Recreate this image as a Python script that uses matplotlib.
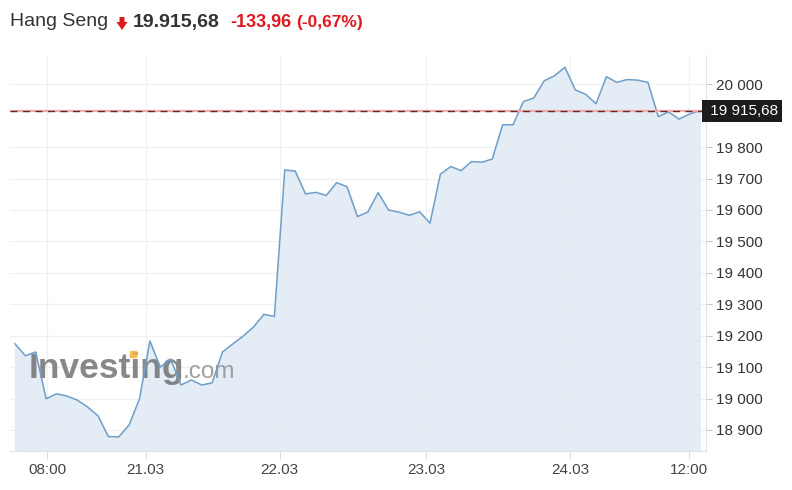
import numpy as np
import matplotlib
matplotlib.use("Agg")
import matplotlib.pyplot as plt
from matplotlib.patches import Rectangle, Polygon

plt.rcParams["font.family"] = ["Liberation Sans", "DejaVu Sans"]

# Hang Seng, 30-minute closes
prices = [
    19174, 19136, 19148, 18999, 19015, 19008, 18995, 18973, 18945, 18879,
    18878, 18916, 18999, 19183, 19100, 19126, 19043, 19059, 19043, 19050,
    19148, 19174, 19199, 19228, 19268, 19261, 19727, 19724, 19651, 19656,
    19646, 19687, 19674, 19579, 19593, 19655, 19600, 19593, 19583, 19594,
    19558, 19714, 19738, 19725, 19754, 19752, 19762, 19871, 19871, 19945,
    19956, 20011, 20027, 20054, 19982, 19968, 19938, 20024, 20006, 20015,
    20013, 20006, 19897, 19912, 19889, 19905, 19915.68,
]
tick_pos = [3.1, 12.6, 25.5, 39.6, 53.5, 65.0]
tick_labels = ["08:00", "21.03", "22.03", "23.03", "24.03", "12:00"]
y_ticks = [18900, 19000, 19100, 19200, 19300, 19400, 19500, 19600, 19700, 19800, 20000]

last_price = 19915.68
change = "-133,96"
change_pct = "(-0,67%)"

line_col = "#6f9fc8"
fill_col = "#e2ebf4"
grid_col = "#f0f0f0"
text_col = "#333333"
red = "#e0191f"

W, H = 792, 490


# pixel (from top-left) -> figure fraction
def px(x, y):
    return x / W, 1 - y / H


def fmt(v):
    return f"{int(v):,}".replace(",", " ")


def main():
    fig = plt.figure(figsize=(W / 100, H / 100), dpi=100)
    ax = fig.add_axes([10 / W, 1 - 450.7 / H, 696 / W, 395.7 / H])

    x = np.arange(len(prices))
    ax.fill_between(x, prices, 18700, color=fill_col, zorder=1, alpha=0.9)
    ax.plot(x, prices, color=line_col, lw=1.1, zorder=3)

    # last price line
    ax.axhline(last_price, color="#f3a8a8", lw=1.6, zorder=4)
    ax.axhline(last_price, color="#5c2e2e", lw=1.0, ls=(0, (5, 4)), zorder=5)
    ax.text(1.0, last_price, " 19 915,68", transform=ax.get_yaxis_transform(),
            ha="left", va="center", color="white", fontsize=11, zorder=6,
            bbox=dict(boxstyle="square,pad=0.25", fc="#1c1c1c", ec="none"),
            clip_on=False)

    ax.set_xlim(-0.48, 66.6)
    ax.set_ylim(18834, 20093)
    ax.set_xticks(tick_pos)
    ax.set_xticklabels(tick_labels)
    ax.set_yticks(y_ticks)
    ax.set_yticklabels([fmt(v) for v in y_ticks])
    ax.yaxis.tick_right()
    ax.tick_params(axis="y", length=4, width=0.8, color="#cccccc", pad=3,
                   labelsize=11, labelcolor=text_col)
    ax.tick_params(axis="x", length=6, width=0.8, color="#dddddd", pad=3,
                   labelsize=11, labelcolor="#444444")
    ax.grid(True, color=grid_col, lw=0.9, zorder=0)
    ax.set_axisbelow(True)
    for side in ["top", "left"]:
        ax.spines[side].set_visible(False)
    ax.spines["right"].set_color("#e3e3e3")
    ax.spines["bottom"].set_color("#e3e3e3")

    # watermark (behind the line)
    ax.text(*px(29, 368), "Investing", transform=fig.transFigure, fontsize=25.5,
            fontweight="bold", color="#6a6a6a", alpha=0.8, va="center", ha="left",
            zorder=2, clip_on=False)
    ax.text(*px(183, 372), ".com", transform=fig.transFigure, fontsize=17.5,
            color="#8a8a8a", alpha=0.8, va="center", ha="left", zorder=2,
            clip_on=False)
    ax.add_patch(Rectangle(px(130, 357), 6 / W, 6 / H, transform=fig.transFigure,
                           color="#f5b642", alpha=0.85, zorder=2.5, clip_on=False))

    # header
    fig.text(*px(10, 22), "Hang Seng", fontsize=14, color=text_col, va="center")
    arrow = [px(119.5, 17), px(124.5, 17), px(124.5, 22), px(127.5, 22),
             px(122, 30), px(116.5, 22), px(119.5, 22)]
    fig.patches.append(Polygon(arrow, closed=True, transform=fig.transFigure,
                               color=red, lw=0))
    fig.text(*px(133, 22), "19.915,68", fontsize=14, fontweight="bold",
             color=text_col, va="center")
    fig.text(*px(230, 22), change, fontsize=13, fontweight="bold",
             color=red, va="center")
    fig.text(*px(296, 22), change_pct, fontsize=12.5, fontweight="bold",
             color=red, va="center")

    fig.savefig("out.png", dpi=100)


if __name__ == "__main__":
    main()
